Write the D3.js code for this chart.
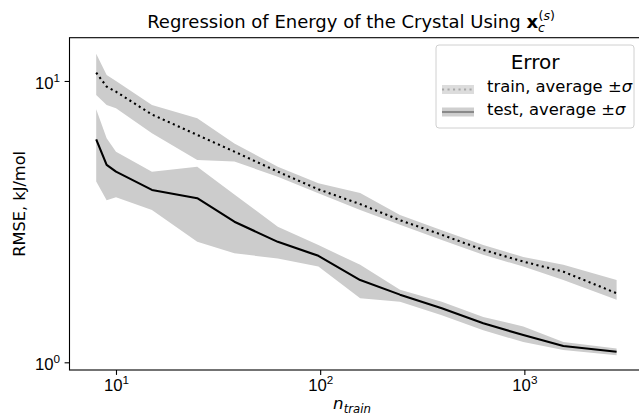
<!DOCTYPE html>
<html>
<head>
<meta charset="utf-8">
<script src="https://cdn.jsdelivr.net/npm/d3@7"></script>
<style>
  body { margin: 0; background: #fff; }
  svg { display: block; font-family: "DejaVu Sans", sans-serif; }
  .axis path, .axis line { stroke: #000; stroke-width: 1.1; }
  .axis text { font-size: 16.7px; fill: #000; }
</style>
</head>
<body>
<div id="chart"></div>
<script>
// values
const nTrain = [8, 9, 10, 15, 25, 38, 62, 98, 157, 246, 394, 629, 988, 1552, 2830];

const trainMean  = [10.7, 9.55, 9.16, 7.6, 6.43, 5.61, 4.76, 4.12, 3.65, 3.2, 2.84, 2.51, 2.28, 2.1, 1.76];
const trainUpper = [12.5, 10.5, 10.0, 8.22, 7.37, 6.0, 4.96, 4.33, 4.0, 3.34, 2.95, 2.61, 2.37, 2.22, 1.96];
const trainLower = [8.92, 8.22, 8.0, 6.52, 5.24, 5.17, 4.57, 3.99, 3.48, 3.08, 2.72, 2.41, 2.19, 1.96, 1.67];

const testMean  = [6.2, 5.03, 4.76, 4.1, 3.83, 3.16, 2.68, 2.39, 1.96, 1.74, 1.556, 1.377, 1.25, 1.143, 1.09];
const testUpper = [7.93, 6.26, 5.6, 4.76, 4.96, 3.95, 3.03, 2.61, 2.22, 1.81, 1.64, 1.45, 1.34, 1.18, 1.12];
const testLower = [4.39, 3.77, 3.86, 3.48, 2.68, 2.44, 2.34, 2.19, 1.69, 1.64, 1.47, 1.3, 1.18, 1.106, 1.06];

const xMajor = [10, 100, 1000];
const yMajor = [1, 10];
const legendLabels = ["train, average ", "test, average "];

// basic setup
const W = 639, H = 416;
const plot = { left: 69.5, top: 37.7, right: 643, bottom: 370 };

const svg = d3.select("#chart").append("svg")
    .attr("width", W)
    .attr("height", H);

const x = d3.scaleLog().domain([5.92, 3811]).range([plot.left, plot.right]);
const y = d3.scaleLog().domain([0.939, 14.25]).range([plot.bottom, plot.top]);

const bandColor = "#cccccc";

function rows(mean, lo, hi) {
    return nTrain.map((n, i) => ({ n, m: mean[i], lo: lo[i], hi: hi[i] }));
}
const train = rows(trainMean, trainLower, trainUpper);
const test = rows(testMean, testLower, testUpper);

const area = d3.area()
    .x(d => x(d.n))
    .y0(d => y(d.lo))
    .y1(d => y(d.hi));

const line = d3.line()
    .x(d => x(d.n))
    .y(d => y(d.m));

// bands first, then the lines
svg.append("path").datum(train).attr("d", area).attr("fill", bandColor);
svg.append("path").datum(test).attr("d", area).attr("fill", bandColor);

svg.append("path").datum(train).attr("d", line)
    .attr("fill", "none").attr("stroke", "#000")
    .attr("stroke-width", 2.1)
    .attr("stroke-dasharray", "2.1,3.4");

svg.append("path").datum(test).attr("d", line)
    .attr("fill", "none").attr("stroke", "#000")
    .attr("stroke-width", 2.1)
    .attr("stroke-linejoin", "round");

// minor tick values for log axes
function minors(domain) {
    const out = [];
    for (let p = -1; p <= 4; p++) {
        for (let k = 2; k <= 9; k++) {
            const v = k * Math.pow(10, p);
            if (v >= domain[0] && v <= domain[1]) out.push(v);
        }
    }
    return out;
}

function powLabel(sel) {
    sel.each(function(d) {
        const t = d3.select(this).text("");
        t.append("tspan").text("10");
        t.append("tspan").attr("dy", -7).attr("font-size", "11.7px")
            .text(Math.round(Math.log10(d)));
    });
}

// x axis
const xAxis = svg.append("g").attr("class", "axis")
    .attr("transform", `translate(0,${plot.bottom})`);
xAxis.call(d3.axisBottom(x).tickValues(minors(x.domain())).tickSize(2.8).tickFormat(""));
xAxis.call(d3.axisBottom(x).tickValues(xMajor).tickSize(4.9).tickPadding(4.5).tickSizeOuter(0))
    .selectAll(".tick text").attr("dy", "0.71em").call(powLabel);

// y axis
const yAxis = svg.append("g").attr("class", "axis")
    .attr("transform", `translate(${plot.left},0)`);
yAxis.call(d3.axisLeft(y).tickValues(minors(y.domain())).tickSize(2.8).tickFormat(""));
yAxis.call(d3.axisLeft(y).tickValues(yMajor).tickSize(4.9).tickPadding(4.5).tickSizeOuter(0))
    .selectAll(".tick text").attr("dy", "0.45em").call(powLabel);
svg.selectAll(".axis .domain").remove();

// frame
svg.append("rect")
    .attr("x", plot.left).attr("y", plot.top)
    .attr("width", plot.right - plot.left).attr("height", plot.bottom - plot.top)
    .attr("fill", "none").attr("stroke", "#000").attr("stroke-width", 1.1);

// title
const title = svg.append("text")
    .attr("x", 351).attr("y", 28)
    .attr("text-anchor", "middle")
    .style("font-size", "18px");
title.append("tspan").text("Regression of Energy of the Crystal Using ");
title.append("tspan").attr("font-weight", "bold").text("x");
title.append("tspan").attr("font-style", "italic").attr("font-size", "12.6px").attr("dy", 4).text("c");
title.append("tspan").attr("font-size", "12.6px").attr("dy", -12).attr("dx", -6.5).text("(");
title.append("tspan").attr("font-size", "12.6px").attr("font-style", "italic").text("s");
title.append("tspan").attr("font-size", "12.6px").text(")");

// axis labels
const xl = svg.append("text")
    .attr("x", 352).attr("y", 409)
    .attr("text-anchor", "middle")
    .style("font-size", "16.7px").style("font-style", "italic");
xl.append("tspan").text("n");
xl.append("tspan").attr("dy", 4).attr("font-size", "11.7px").text("train");

svg.append("text")
    .attr("transform", `translate(25,${(plot.top + plot.bottom) / 2}) rotate(-90)`)
    .attr("text-anchor", "middle")
    .style("font-size", "16.2px")
    .text("RMSE, kJ/mol");

// legend
const lg = svg.append("g");
lg.append("rect")
    .attr("x", 436).attr("y", 45).attr("width", 198).attr("height", 83)
    .attr("rx", 3)
    .attr("fill", "#fff").attr("fill-opacity", 0.8)
    .attr("stroke", "#d0d0d0");

lg.append("text")
    .attr("x", 535).attr("y", 69)
    .attr("text-anchor", "middle")
    .style("font-size", "20px")
    .text("Error");

const rowsY = [92, 115];
const handleY = [89.5, 112];
legendLabels.forEach((lab, i) => {
    lg.append("rect")
        .attr("x", 442).attr("y", handleY[i] - 4.5)
        .attr("width", 32).attr("height", 9)
        .attr("fill", i === 0 ? "#dcdcdc" : "#cfcfcf");
    lg.append("line")
        .attr("x1", 442).attr("x2", 474)
        .attr("y1", handleY[i]).attr("y2", handleY[i])
        .attr("stroke", i === 0 ? "#a8a8a8" : "#8a8a8a")
        .attr("stroke-width", 2.1)
        .attr("stroke-dasharray", i === 0 ? "2.1,3.4" : null);
    const t = lg.append("text")
        .attr("x", 487).attr("y", rowsY[i])
        .style("font-size", "16.4px");
    t.append("tspan").text(lab + "±");
    t.append("tspan").attr("font-style", "italic").text("σ");
});
</script>
</body>
</html>
